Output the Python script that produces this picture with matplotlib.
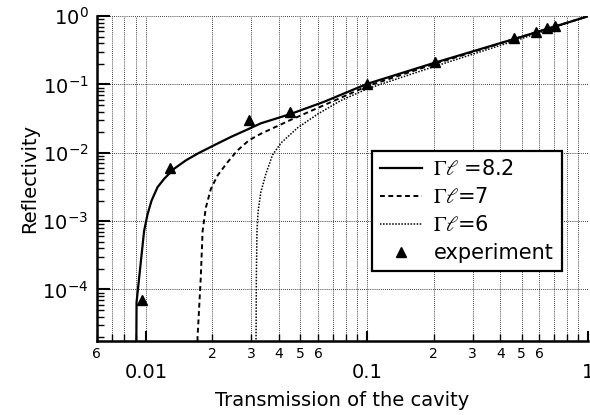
import matplotlib
matplotlib.use("Agg")
import matplotlib.pyplot as plt
import matplotlib.ticker as mticker
import numpy as np

# theory curves (transmission, reflectivity)
T_82 = [0.00905, 0.00908, 0.00982, 0.01018, 0.01061, 0.01129, 0.0121, 0.01343, 0.01517, 0.01714,
        0.02005, 0.02427, 0.0299, 0.0331, 0.0449, 0.0641, 0.1, 0.2, 0.5, 1.0]
R_82 = [1e-5, 6.5e-5, 7.16e-4, 1.26e-3, 1.99e-3, 3.13e-3, 4.16e-3, 5.85e-3, 7.75e-3, 9.73e-3,
        0.01259, 0.0171, 0.0232, 0.027, 0.0368, 0.056, 0.102, 0.206, 0.5, 1.0]

T_7 = [0.0171, 0.01713, 0.0177, 0.01806, 0.01868, 0.01968, 0.0211, 0.02343, 0.026, 0.0293,
       0.0331, 0.0408, 0.0438, 0.0641, 0.1, 0.2, 0.5, 1.0]
R_7 = [1e-5, 2e-5, 1.4e-4, 7.16e-4, 1.58e-3, 2.96e-3, 4.66e-3, 7.31e-3, 0.0109, 0.0153,
       0.019, 0.026, 0.029, 0.050, 0.0944, 0.198, 0.5, 1.0]

T_6 = [0.0314, 0.0315, 0.0316, 0.0318, 0.0322, 0.0331, 0.0349, 0.0374, 0.0408, 0.0486,
       0.0598, 0.0762, 0.1007, 0.2, 0.5, 1.0]
R_6 = [1e-5, 2e-5, 1.5e-4, 7.2e-4, 1.42e-3, 2.64e-3, 4.93e-3, 9.3e-3, 0.0139, 0.0233,
       0.0369, 0.0583, 0.0871, 0.182, 0.47, 1.0]

# measured points
T_exp = [0.0096, 0.0129, 0.0292, 0.0449, 0.1, 0.203, 0.462, 0.582, 0.652, 0.71]
R_exp = [7.1e-5, 6.0e-3, 0.0303, 0.0398, 0.103, 0.21, 0.477, 0.584, 0.668, 0.714]

labels = [r"$\Gamma\ell$ =8.2", r"$\Gamma\ell$=7", r"$\Gamma\ell$=6", "experiment"]

plt.rcParams["font.family"] = ["DejaVu Sans"]
plt.rcParams["mathtext.fontset"] = "stix"

fig = plt.figure(figsize=(5.9, 4.15), dpi=100)
ax = fig.add_axes([0.164, 0.178, 0.833, 0.783])

ax.plot(T_82, R_82, color="black", lw=1.6, label=labels[0])
ax.plot(T_7, R_7, color="black", lw=1.4, ls=(0, (2.5, 1.8)), label=labels[1])
ax.plot(T_6, R_6, color="black", lw=1.1, ls=(0, (1, 1)), label=labels[2])
ax.plot(T_exp, R_exp, ls="none", marker="^", color="black", ms=7, label=labels[3])

ax.set_xscale("log")
ax.set_yscale("log")
ax.set_xlim(0.006, 1)
ax.set_ylim(1.75e-5, 1)

ax.xaxis.set_major_locator(mticker.FixedLocator([0.01, 0.1, 1]))
ax.xaxis.set_major_formatter(mticker.FixedFormatter(["0.01", "0.1", "1"]))
ax.xaxis.set_minor_locator(mticker.LogLocator(base=10, subs=np.arange(2, 10), numticks=20))


def minor_fmt(x, pos):
    d = int(round(x / 10 ** np.floor(np.log10(x) + 1e-9)))
    return str(d) if d in (2, 3, 4, 5, 6) else ""


ax.xaxis.set_minor_formatter(mticker.FuncFormatter(minor_fmt))
ax.yaxis.set_major_locator(mticker.LogLocator(base=10, numticks=10))
ax.yaxis.set_minor_locator(mticker.LogLocator(base=10, subs=np.arange(2, 10), numticks=20))
ax.yaxis.set_minor_formatter(mticker.NullFormatter())

ax.grid(True, which="major", axis="both", color="black", ls=(0, (1, 1.5)), lw=0.6)
ax.grid(True, which="minor", axis="x", color="black", ls=(0, (1, 1.5)), lw=0.6)

for s in ("top", "right"):
    ax.spines[s].set_visible(False)
for s in ("left", "bottom"):
    ax.spines[s].set_linewidth(1.8)

ax.tick_params(axis="both", which="both", direction="in", color="black")
ax.tick_params(axis="y", which="major", length=9, width=1.5, labelsize=14, pad=6)
ax.tick_params(axis="y", which="minor", length=5, width=1.0)
ax.tick_params(axis="x", which="major", length=7, width=1.5, labelsize=14, pad=16)
ax.tick_params(axis="x", which="minor", length=5, width=1.0, labelsize=10, pad=4)

ax.set_xlabel("Transmission of the cavity", fontsize=14, labelpad=6)
ax.set_ylabel("Reflectivity", fontsize=14, labelpad=2)

leg = ax.legend(loc="upper left", bbox_to_anchor=(0.56, 0.585), fontsize=15,
                frameon=True, fancybox=False, framealpha=1, edgecolor="black",
                handlelength=2.0, handletextpad=0.55, labelspacing=0.38,
                borderpad=0.4, borderaxespad=0)
leg.get_frame().set_linewidth(1.6)

fig.savefig("out.png", dpi=100)
